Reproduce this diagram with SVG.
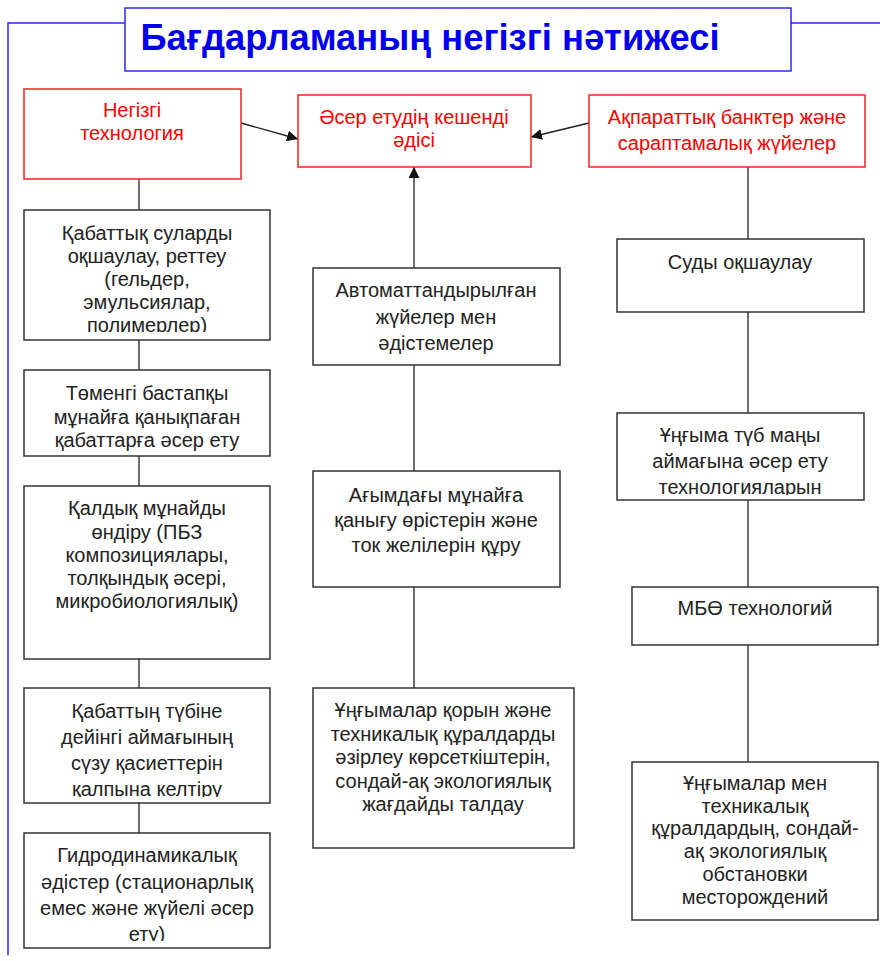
<svg xmlns="http://www.w3.org/2000/svg" width="880" height="961" viewBox="0 0 880 961">
<style>
.t{font-family:"Liberation Sans",Arial,sans-serif;font-size:20px;fill:#222;text-anchor:middle}
.r{font-family:"Liberation Sans",Arial,sans-serif;font-size:20px;fill:#ff0000;text-anchor:middle}
.bx{fill:#fff;stroke:#333;stroke-width:1.5}
.rb{fill:#fff;stroke:#ff2020;stroke-width:1.5}
.ln{stroke:#222;stroke-width:1.3;fill:none}
</style>
<defs>
<marker id="ah" viewBox="0 0 10 10" refX="10" refY="5" markerWidth="11" markerHeight="11" markerUnits="userSpaceOnUse" orient="auto"><path d="M0,0 L10,5 L0,10 z" fill="#111"/></marker>
<clipPath id="c1"><rect x="24" y="210" width="246" height="122"/></clipPath>
<clipPath id="c4"><rect x="24" y="688" width="246" height="109"/></clipPath>
<clipPath id="c5"><rect x="24" y="833" width="246" height="108"/></clipPath>
<clipPath id="cr2"><rect x="617" y="413" width="247" height="82"/></clipPath>
</defs>
<rect width="880" height="961" fill="#fff"/>
<g id="frame">
<path d="M8,955 V23 H125 M791,23 H880" fill="none" stroke="#2a2aff" stroke-width="1.5"/>
</g>
<g id="title">
<rect x="125" y="8" width="666" height="63" fill="#fff" stroke="#2a2aee" stroke-width="1.5"/>
<text x="430" y="50" font-family="Liberation Sans,Arial,sans-serif" font-size="36" font-weight="bold" fill="#0000ee" text-anchor="middle" textLength="579" lengthAdjust="spacingAndGlyphs">Бағдарламаның негізгі нәтижесі</text>
</g>
<g id="connectors">
<path class="ln" d="M241,123 L298,139" marker-end="url(#ah)"/>
<path class="ln" d="M589,123 L531,137" marker-end="url(#ah)"/>
<path class="ln" d="M414,268 L414,167" marker-end="url(#ah)"/>
<path class="ln" d="M139,167 V210 M139,340 V370 M139,456 V486 M139,659 V688 M139,803 V833"/>
<path class="ln" d="M414,365 V471 M414,587 V688"/>
<path class="ln" d="M748,167 V239 M748,312 V413 M748,498 V587 M748,645 V762"/>
</g>
<g id="n-negizgi">
<rect class="rb" x="24" y="89" width="217" height="90"/>
<text class="r" x="132" y="117">Негізгі</text>
<text class="r" x="132" y="140">технология</text>
</g>
<g id="n-keshendi">
<rect class="rb" x="298" y="95" width="233" height="72"/>
<text class="r" x="414" y="124">Әсер етудің кешенді</text>
<text class="r" x="414" y="147">әдісі</text>
</g>
<g id="n-akparat">
<rect class="rb" x="589" y="95" width="276" height="72"/>
<text class="r" x="727" y="124">Ақпараттық банктер және</text>
<text class="r" x="727" y="150">сараптамалық жүйелер</text>
</g>
<g id="n-l1">
<rect class="bx" x="24" y="210" width="246" height="130"/>
<g clip-path="url(#c1)">
<text class="t" x="147" y="240">Қабаттық суларды</text>
<text class="t" x="147" y="263">оқшаулау, реттеу</text>
<text class="t" x="147" y="286">(гельдер,</text>
<text class="t" x="147" y="309">эмульсиялар,</text>
<text class="t" x="147" y="332">полимерлер)</text>
</g>
</g>
<g id="n-l2">
<rect class="bx" x="24" y="370" width="246" height="86"/>
<text class="t" x="147" y="400">Төменгі бастапқы</text>
<text class="t" x="147" y="424">мұнайға қанықпаған</text>
<text class="t" x="147" y="447">қабаттарға әсер ету</text>
</g>
<g id="n-l3">
<rect class="bx" x="24" y="486" width="246" height="173"/>
<text class="t" x="147" y="515">Қалдық мұнайды</text>
<text class="t" x="147" y="539">өндіру (ПБЗ</text>
<text class="t" x="147" y="562">композициялары,</text>
<text class="t" x="147" y="585">толқындық әсері,</text>
<text class="t" x="147" y="608">микробиологиялық)</text>
</g>
<g id="n-l4">
<rect class="bx" x="24" y="688" width="246" height="115"/>
<g clip-path="url(#c4)">
<text class="t" x="147" y="718">Қабаттың түбіне</text>
<text class="t" x="147" y="744">дейінгі аймағының</text>
<text class="t" x="147" y="770">сүзу қасиеттерін</text>
<text class="t" x="147" y="796">қалпына келтіру</text>
</g>
</g>
<g id="n-l5">
<rect class="bx" x="24" y="833" width="246" height="115"/>
<g clip-path="url(#c5)">
<text class="t" x="147" y="862">Гидродинамикалық</text>
<text class="t" x="147" y="889">әдістер (стационарлық</text>
<text class="t" x="147" y="915">емес және жүйелі әсер</text>
<text class="t" x="147" y="941">ету)</text>
</g>
</g>
<g id="n-m1">
<rect class="bx" x="313" y="268" width="247" height="97"/>
<text class="t" x="436" y="297">Автоматтандырылған</text>
<text class="t" x="436" y="324">жүйелер мен</text>
<text class="t" x="436" y="350">әдістемелер</text>
</g>
<g id="n-m2">
<rect class="bx" x="313" y="471" width="247" height="116"/>
<text class="t" x="436" y="502">Ағымдағы мұнайға</text>
<text class="t" x="436" y="527">қанығу өрістерін және</text>
<text class="t" x="436" y="552">ток желілерін құру</text>
</g>
<g id="n-m3">
<rect class="bx" x="313" y="688" width="261" height="160"/>
<text class="t" x="443" y="717">Ұңғымалар қорын және</text>
<text class="t" x="443" y="741">техникалық құралдарды</text>
<text class="t" x="443" y="764">әзірлеу көрсеткіштерін,</text>
<text class="t" x="443" y="788">сондай-ақ экологиялық</text>
<text class="t" x="443" y="811">жағдайды талдау</text>
</g>
<g id="n-r1">
<rect class="bx" x="617" y="239" width="247" height="73"/>
<text class="t" x="740" y="269">Суды оқшаулау</text>
</g>
<g id="n-r2">
<rect class="bx" x="617" y="413" width="247" height="87"/>
<g clip-path="url(#cr2)">
<text class="t" x="740" y="442">Ұңғыма түб маңы</text>
<text class="t" x="740" y="468">аймағына әсер ету</text>
<text class="t" x="740" y="494">технологияларын</text>
</g>
</g>
<g id="n-r3">
<rect class="bx" x="632" y="587" width="246" height="58"/>
<text class="t" x="755" y="615">МБӨ технологий</text>
</g>
<g id="n-r4">
<rect class="bx" x="632" y="762" width="246" height="158"/>
<text class="t" x="755" y="790">Ұңғымалар мен</text>
<text class="t" x="755" y="813">техникалық</text>
<text class="t" x="755" y="835">құралдардың, сондай-</text>
<text class="t" x="755" y="858">ақ экологиялық</text>
<text class="t" x="755" y="881">обстановки</text>
<text class="t" x="755" y="904">месторождений</text>
</g>
</svg>
